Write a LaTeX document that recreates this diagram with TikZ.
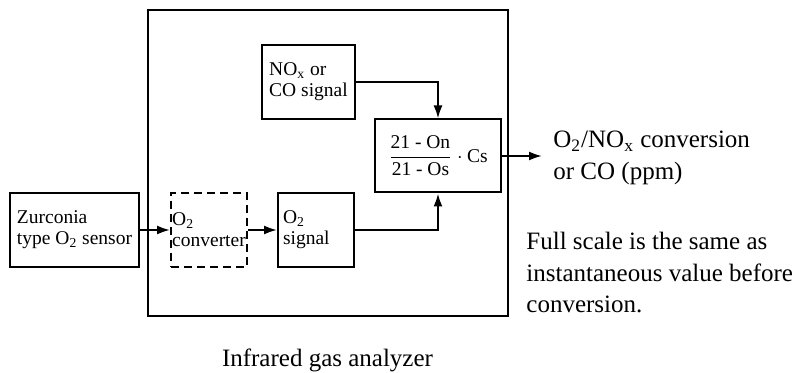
\documentclass[tikz,border=0pt]{standalone}
\usepackage{amsmath}
\usepackage{fontspec}
\setmainfont{Liberation Serif}
\usetikzlibrary{arrows.meta}
\newcommand{\boxfont}{\fontsize{9.75}{10.5}\selectfont}
\newcommand{\notefont}{\fontsize{12.5}{15.75}\selectfont}

\begin{document}
\begin{tikzpicture}[x=0.5pt, y=-0.5pt, >={Latex[length=6.5pt,width=4.5pt]},
    blk/.style={draw, line width=1pt, minimum height=37pt, inner sep=2pt, align=left, font=\boxfont},
    note/.style={inner sep=0pt, align=left, font=\notefont},
    link/.style={->, line width=1pt}]
    \useasboundingbox (0,0) rectangle (799,373);

    % 1. Khung may phan tich
    \node[draw, line width=1pt, minimum width=180pt, minimum height=153pt] (analyzer) at (328,163) {};
    \node[note] (caption) at (327.5,360) {Infrared gas analyzer};

    % 2. Cac khoi tin hieu
    \node[blk, minimum width=64.5pt] (sensor) at (74.5,230) {Zurconia\\type O\textsubscript{2} sensor};
    \node[blk, dash pattern=on 4pt off 2.5pt, minimum width=38pt, inner xsep=0.5pt] (conv) at (209,230) {O\textsubscript{2}\\converter};
    \node[blk, text width=33pt, inner xsep=2.5pt] (o2sig) at (316,230) {O\textsubscript{2}\\signal};
    \node[blk, minimum width=46.5pt] (nox) at (308.5,82) {NO\textsubscript{x} or\\CO signal};
    \node[blk, minimum width=63pt, minimum height=36.5pt] (calc) at (438,156)
        {$\dfrac{\mbox{21 - On}}{\mbox{21 - Os}}\cdot\mbox{Cs}$};

    % 3. Ghi chu
    \node[note, anchor=west, inner xsep=5.5pt] (out) at (542,158) {O\textsubscript{2}/NO\textsubscript{x} conversion\\or CO (ppm)};
    \node[note, anchor=west] (scale) at (526,273) {Full scale is the same as\\instantaneous value before\\conversion.};

    % 4. Mui ten
    \draw[link] (sensor) -- (conv);
    \draw[link] (conv) -- (o2sig);
    \draw[link] (nox.east) -| (calc.north);
    \draw[link] (o2sig.east) -| (calc.south);
    \draw[link] (calc.east) -- (calc.east -| out.west);
\end{tikzpicture}
\end{document}
